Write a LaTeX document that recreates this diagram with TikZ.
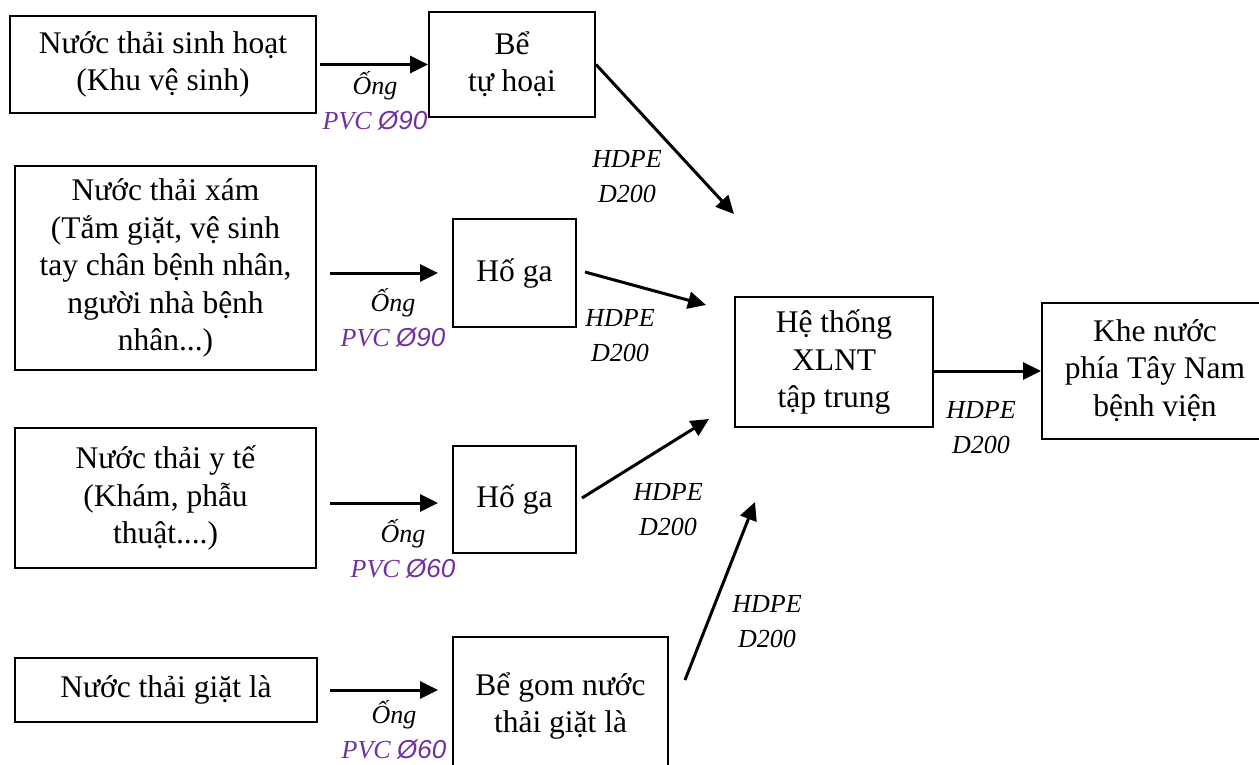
\documentclass[tikz,border=0pt]{standalone}
\usepackage{fontspec}
\setmainfont{Liberation Serif}
\newfontfamily\pipesans{Liberation Sans}
\usetikzlibrary{arrows.meta,calc}
\definecolor{pipepurple}{HTML}{7030A0}

\begin{document}
\begin{tikzpicture}[x=0.5pt,y=-0.5pt,
  box/.style={draw,line width=1pt,inner sep=0pt,align=center,
    font=\fontsize{15.75}{18.75}\selectfont},
  flow/.style={line width=1.5pt,-{Triangle[length=9pt,width=8.5pt]}},
  pipe/.style={inner sep=0pt,align=center,font=\fontsize{13}{17.5}\selectfont\itshape},
]
\useasboundingbox (0,0) rectangle (1259,765);
\clip (0,0) rectangle (1259,765);

% sources
\node[box,minimum width=153pt,minimum height=48.5pt] (sh) at (163,64.5)
  {Nước thải sinh hoạt\\(Khu vệ sinh)\rule[-3pt]{0pt}{0pt}};
\node[box,minimum width=150.5pt,minimum height=102pt] (xam) at (165.5,268)
  {Nước thải xám\\(Tắm giặt, vệ sinh\\tay chân bệnh nhân,\\người nhà bệnh\\nhân...)\rule[-3pt]{0pt}{0pt}};
\node[box,minimum width=150.5pt,minimum height=70pt] (yte) at (165.5,498)
  {Nước thải y tế\\(Khám, phẫu\\thuật....)\rule[-3pt]{0pt}{0pt}};
\node[box,minimum width=151pt,minimum height=32pt] (giat) at (166,690)
  {Nước thải giặt là\rule[-3pt]{0pt}{0pt}};

% pre-treatment
\node[box,minimum width=83pt,minimum height=52.5pt] (th) at (512,64.5)
  {Bể\\tự hoại\rule[-3pt]{0pt}{0pt}};
\node[box,minimum width=61.5pt,minimum height=54pt] (ga1) at (514.5,273)
  {Hố ga\rule[-3pt]{0pt}{0pt}};
\node[box,minimum width=61.5pt,minimum height=53.5pt] (ga2) at (514.5,499.5)
  {Hố ga\rule[-3pt]{0pt}{0pt}};
\node[box,minimum width=107.5pt,minimum height=69pt] (gom) at (560.5,706)
  {Bể gom nước\\thải giặt là\rule[-3pt]{0pt}{0pt}};

% treatment and outlet
\node[box,minimum width=99pt,minimum height=65pt] (xlnt) at (834,362)
  {Hệ thống\\XLNT\\tập trung\rule[-3pt]{0pt}{0pt}};
\node[box,minimum width=113pt,minimum height=68pt] (khe) at (1155,371)
  {Khe nước\\phía Tây Nam\\bệnh viện\rule[-3pt]{0pt}{0pt}};

% free ends of the collector lines
\coordinate (in1) at (734,214);
\coordinate (in2) at (706,305);
\coordinate (in3) at (709,419);
\coordinate (in4) at (755,502);

% horizontal feeds
\draw[flow] ([xshift=1.5pt]sh.east |- th.west) -- (th.west);
\draw[flow] ([xshift=6.5pt]xam.east |- ga1.west) -- ([xshift=-7pt]ga1.west);
\draw[flow] ([xshift=6.5pt,yshift=-1.75pt]yte.east |- ga2.west) -- ([xshift=-7pt,yshift=-1.75pt]ga2.west);
\draw[flow] ([xshift=6pt]giat.east) -- ([xshift=-7pt]giat.east -| gom.west);
\draw[flow] (xlnt.east |- khe.west) -- (khe.west);

% collector lines
\draw[flow] (th.east) -- (in1);
\draw[flow] ([xshift=4pt,yshift=0.5pt]ga1.east) -- (in2);
\draw[flow] ([xshift=2.5pt,yshift=0.75pt]ga2.east) -- (in3);
\draw[flow] ([xshift=8pt,yshift=13pt]gom.east) -- (in4);

% pipe labels
\node[pipe] (p1) at (375,101) {Ống\\\textcolor{pipepurple}{PVC {\pipesans Ø90}}};
\node[pipe] (p2) at (393,318) {Ống\\\textcolor{pipepurple}{PVC {\pipesans Ø90}}};
\node[pipe] (p3) at (403,549) {Ống\\\textcolor{pipepurple}{PVC {\pipesans Ø60}}};
\node[pipe] (p4) at (394,730) {Ống\\\textcolor{pipepurple}{PVC {\pipesans Ø60}}};

\node[pipe] (h1) at (627,177) {HDPE\\D200};
\node[pipe] (h2) at (620,336) {HDPE\\D200};
\node[pipe] (h3) at (668,510) {HDPE\\D200};
\node[pipe] (h4) at (767,622) {HDPE\\D200};
\node[pipe] (h5) at (981,428) {HDPE\\D200};
\end{tikzpicture}
\end{document}
